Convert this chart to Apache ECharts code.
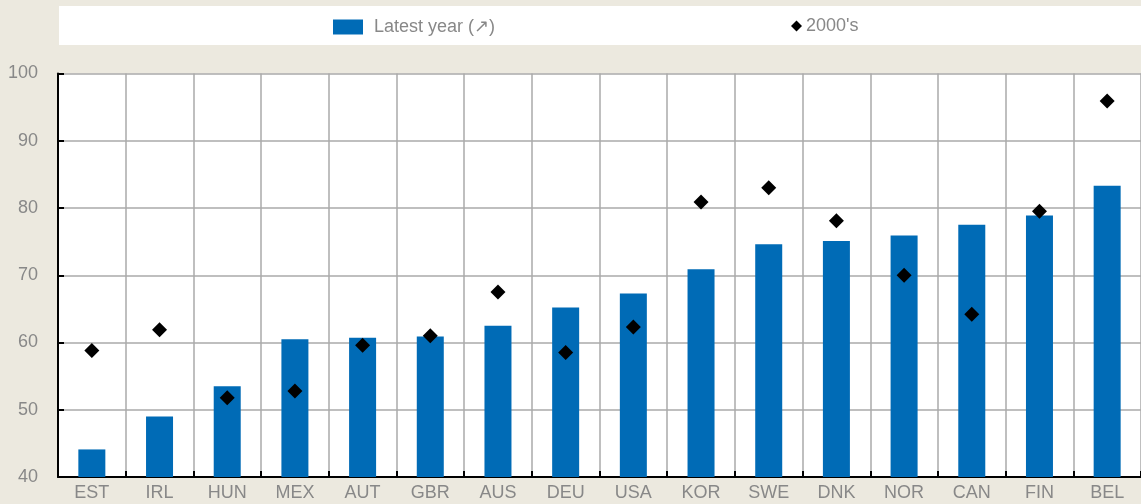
<!DOCTYPE html>
<html>
<head>
<meta charset="utf-8">
<script src="https://cdn.jsdelivr.net/npm/echarts@6/dist/echarts.min.js"></script>
<style>
html,body{margin:0;padding:0;background:#ECE9DF;}
#c{width:1141px;height:504px;}
</style>
</head>
<body>
<div id="c"></div>
<script>
const categories = ['EST','IRL','HUN','MEX','AUT','GBR','AUS','DEU','USA','KOR','SWE','DNK','NOR','CAN','FIN','BEL'];
const latestYear = [44.1, 49.0, 53.5, 60.5, 60.7, 60.9, 62.5, 65.2, 67.3, 70.9, 74.6, 75.1, 75.9, 77.5, 78.9, 83.3];
const y2000s = [58.8, 61.9, 51.8, 52.8, 59.6, 61.0, 67.5, 58.5, 62.3, 80.9, 83.0, 78.1, 70.0, 64.2, 79.5, 95.9];
const yTicks = {min: 40, max: 100, interval: 10};

const FONT = '"Liberation Sans", Arial, sans-serif';
const GRAY = '#888888';

const chart = echarts.init(document.getElementById('c'), null, {renderer: 'canvas'});
chart.setOption({
  backgroundColor: '#ECE9DF',
  animation: false,
  graphic: [{
    type: 'rect', left: 59, top: 6, z: -1,
    shape: {width: 1090, height: 39},
    style: {fill: '#ffffff'}
  }],
  legend: [{
    data: [{name: 'Latest year (\u2197)', icon: 'rect'}],
    left: 328, top: 13,
    itemWidth: 30, itemHeight: 15,
    textStyle: {color: GRAY, fontFamily: FONT, fontSize: 18, padding: [0,0,0,6]}
  }, {
    data: [{name: "2000's", icon: 'diamond'}],
    left: 786, top: 12,
    itemWidth: 11, itemHeight: 11,
    textStyle: {color: GRAY, fontFamily: FONT, fontSize: 18, padding: [0,0,0,-1]}
  }],
  grid: {left: 58, top: 73.5, width: 1086, height: 403.5, containLabel: false,
         show: true, backgroundColor: '#ffffff', borderWidth: 0},
  xAxis: {
    type: 'category',
    data: categories,
    boundaryGap: true,
    axisLine: {show: true, lineStyle: {color: '#000', width: 2}},
    axisTick: {show: true, inside: true, length: 6, lineStyle: {color: '#000', width: 2}},
    splitLine: {show: true, lineStyle: {color: '#aaaaaa', width: 1.5}},
    axisLabel: {color: GRAY, fontFamily: FONT, fontSize: 18, margin: 7, interval: 0}
  },
  yAxis: {
    type: 'value',
    min: yTicks.min, max: yTicks.max, interval: yTicks.interval,
    axisLine: {show: true, lineStyle: {color: '#000', width: 2}},
    axisTick: {show: true, inside: true, length: 6, lineStyle: {color: '#000', width: 2}},
    splitLine: {show: true, lineStyle: {color: '#aaaaaa', width: 1.5}},
    axisLabel: {color: GRAY, fontFamily: FONT, fontSize: 18, margin: 20}
  },
  series: [{
    name: 'Latest year (\u2197)',
    type: 'bar',
    data: latestYear,
    barWidth: 27,
    itemStyle: {color: '#006BB6'},
    z: 2
  }, {
    name: "2000's",
    type: 'scatter',
    data: y2000s,
    symbol: 'diamond',
    symbolSize: 15,
    itemStyle: {color: '#000', opacity: 1},
    z: 3
  }]
});
</script>
</body>
</html>
